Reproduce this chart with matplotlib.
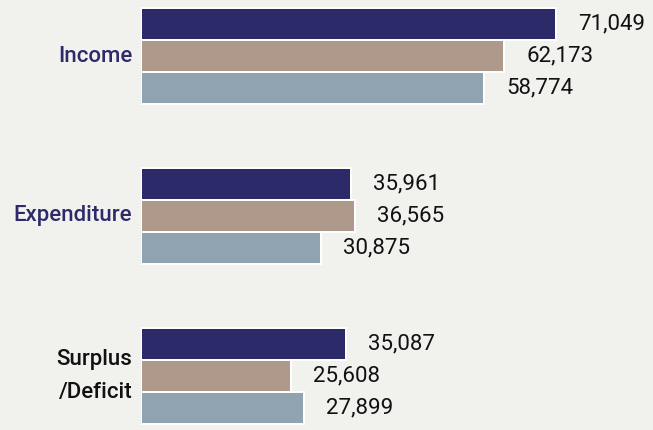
import numpy as np
import matplotlib.pyplot as plt

categories = ["Income", "Expenditure", "Surplus\n/Deficit"]
label_colors = ["#2c2a69", "#2c2a69", "#111111"]
series_a = [71049, 35961, 35087]
series_b = [62173, 36565, 25608]
series_c = [58774, 30875, 27899]

colors = ["#2c2a69", "#ae998a", "#8fa3b0"]
BG = "#f1f2ee"

plt.rcParams["font.family"] = ["Roboto", "DejaVu Sans"]

fig = plt.figure(figsize=(6.53, 4.30), dpi=100, facecolor=BG)
ax = fig.add_axes([141 / 653, 0, 1 - 141 / 653, 1])
ax.set_facecolor(BG)

y = np.arange(len(categories))
step = 0.2
for i, vals in enumerate([series_a, series_b, series_c]):
    pos = y + (i - 1) * step
    ax.barh(pos, vals, height=step, color=colors[i], edgecolor="white",
            linewidth=1.44)
    for p, v in zip(pos, vals):
        ax.text(v + 3770, p, f"{v:,}", va="center", ha="left",
                fontsize=16, color="#111111")

ax.set_xlim(0, 87660)
ax.set_ylim(2.3375, -0.35)
for k, (lab, c) in enumerate(zip(categories, label_colors)):
    ax.text(-1500, y[k], lab, ha="right", va="center", fontsize=16,
            fontweight="medium", color=c, linespacing=1.8,
            clip_on=False)
ax.axis("off")

fig.savefig("out.png", dpi=100, facecolor=BG)
